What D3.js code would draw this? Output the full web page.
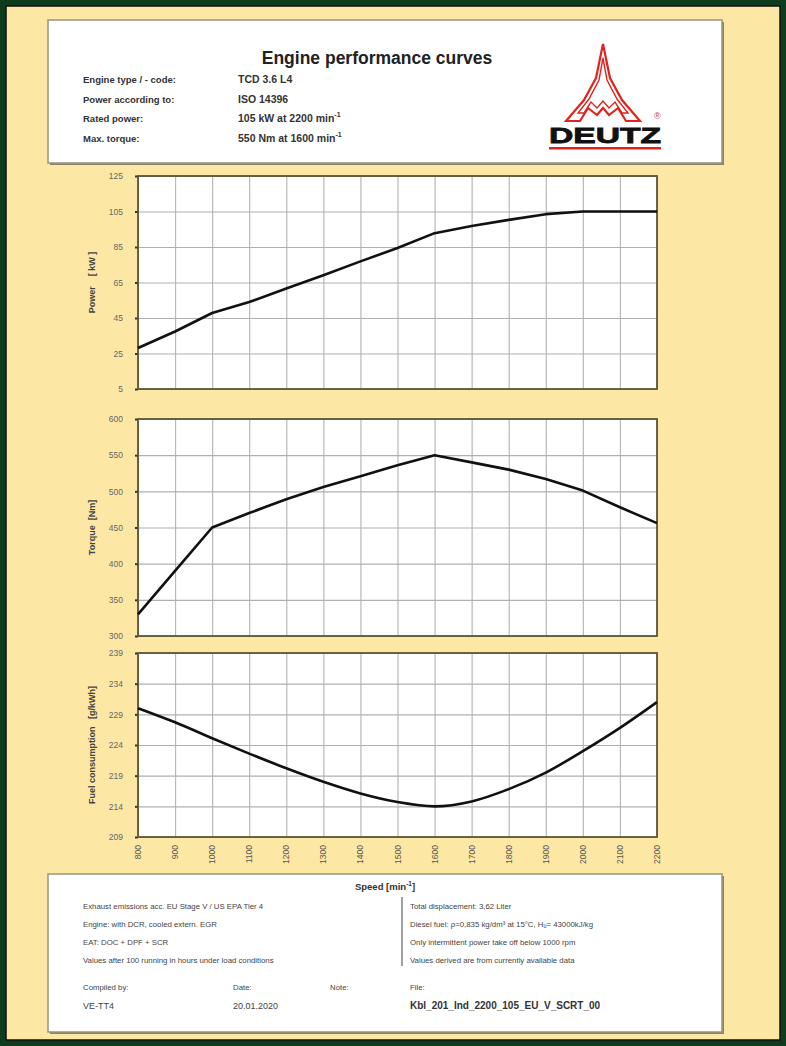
<!DOCTYPE html>
<html>
<head>
<meta charset="utf-8">
<script src="https://cdn.jsdelivr.net/npm/d3@7"></script>
<style>
  html, body { margin: 0; padding: 0; background: #0d3d1c; }
  svg { display: block; font-family: "Liberation Sans", Arial, sans-serif; }
</style>
</head>
<body>
<svg id="viz"></svg>
<script>
// ---------------------------
// Data
// ---------------------------

const speeds = [800, 900, 1000, 1100, 1200, 1300, 1400, 1500, 1600, 1700, 1800, 1900, 2000, 2100, 2200];
const powerKW = [28.1, 37.4, 47.8, 54.0, 61.6, 69.1, 76.9, 84.4, 92.8, 96.8, 100.3, 103.5, 105, 105, 105];
const torqueNm = [330, 390, 450, 470, 489, 506, 521, 536, 550, 540, 530, 517, 501, 478, 456];
const fuelGkWh = [230, 227.7, 225.1, 222.6, 220.2, 218, 216.1, 214.7, 214, 214.8, 216.8, 219.5, 223, 226.8, 231];

const powerTicks = [5, 25, 45, 65, 85, 105, 125];
const torqueTicks = [300, 350, 400, 450, 500, 550, 600];
const fuelTicks = [209, 214, 219, 224, 229, 234, 239];

const headerLabels = ["Engine type / - code:", "Power according to:", "Rated power:", "Max. torque:"];
const headerValues = ["TCD 3.6 L4", "ISO 14396", "105 kW at 2200 min", "550 Nm at 1600 min"];

const notesLeft = [
    "Exhaust emissions acc. EU Stage V / US EPA Tier 4",
    "Engine: with DCR, cooled extern. EGR",
    "EAT: DOC + DPF + SCR",
    "Values after 100 running in hours under load conditions"
];
const notesRight = [
    "Total displacement:  3,62  Liter",
    "Diesel fuel: \u03c1=0,835 kg/dm\u00b3 at 15\u00b0C, H\u1d64= 43000kJ/kg",
    "Only intermittent power take off below 1000 rpm",
    "Values derived are from currently available data"
];

// ---------------------------
// Create SVG
// ---------------------------

const width = 786;
const height = 1046;

const svg = d3.select("#viz")
    .attr("width", width)
    .attr("height", height)
    .attr("viewBox", `0 0 ${width} ${height}`);

// page frame
svg.append("rect")
    .attr("x", 0).attr("y", 0).attr("width", width).attr("height", height)
    .attr("fill", "#0d3d1c");
svg.append("rect")
    .attr("x", 6).attr("y", 6).attr("width", width - 12).attr("height", height - 12)
    .attr("fill", "#fce8a4")
    .attr("stroke", "#111").attr("stroke-width", 1.5);

// ---------------------------
// Header box
// ---------------------------

const header = svg.append("g");

header.append("rect")
    .attr("x", 50).attr("y", 22).attr("width", 674).attr("height", 143)
    .attr("fill", "#8a846a");
header.append("rect")
    .attr("x", 48).attr("y", 20).attr("width", 674).attr("height", 143)
    .attr("fill", "#fff")
    .attr("stroke", "#9a9478").attr("stroke-width", 1.5);

header.append("text")
    .attr("x", 377).attr("y", 64)
    .attr("text-anchor", "middle")
    .attr("font-size", 17.5)
    .attr("font-weight", "bold")
    .attr("fill", "#222")
    .text("Engine performance curves");

headerLabels.forEach((d, i) => {
    header.append("text")
        .attr("x", 83).attr("y", 83 + i * 19.5)
        .attr("font-size", 9.5).attr("font-weight", "bold").attr("fill", "#333")
        .text(d);
});

headerValues.forEach((d, i) => {
    const t = header.append("text")
        .attr("x", 238).attr("y", 83 + i * 19.5)
        .attr("font-size", 10.5).attr("font-weight", "bold").attr("fill", "#333")
        .text(d);
    if (i >= 2) {
        t.append("tspan").attr("dy", -5).attr("font-size", 7).text("-1");
    }
});

// DEUTZ logo
const logo = header.append("g").attr("fill", "none").attr("stroke", "#e0231d").attr("stroke-linejoin", "miter");
logo.append("path")
    .attr("stroke-width", 2.2)
    .attr("d", "M603,44 L596,78 L584,100 L572,114 L566,121 L580,121 L588,108 L597,115 L603,108 L609,115 L618,108 L626,121 L640,121 L634,114 L622,100 L610,78 Z");
logo.append("path")
    .attr("stroke-width", 1.4)
    .attr("d", "M603,58 L599,80 L589,99 L578,113 L584,113 L591,102 L597,108 L603,101 L609,108 L615,102 L622,113 L628,113 L617,99 L607,80 Z");
header.append("text")
    .attr("x", 549).attr("y", 143)
    .attr("font-size", 22).attr("font-weight", "900")
    .attr("font-family", "'Liberation Sans', Arial, sans-serif")
    .attr("fill", "#111")
    .attr("stroke", "#111").attr("stroke-width", 0.8)
    .attr("textLength", 112)
    .attr("lengthAdjust", "spacingAndGlyphs")
    .text("DEUTZ");
header.append("rect")
    .attr("x", 549).attr("y", 147).attr("width", 112).attr("height", 2.5)
    .attr("fill", "#e0231d");
header.append("text")
    .attr("x", 654).attr("y", 119)
    .attr("font-size", 9).attr("fill", "#c33")
    .text("\u00ae");

// ---------------------------
// Charts
// ---------------------------

const left = 138;
const right = 657;

const x = d3.scaleLinear()
    .domain([800, 2200])
    .range([left, right]);

const panels = [
    { values: powerKW, ticks: powerTicks, top: 176, bottom: 389, label: "Power    [ kW ]", curve: d3.curveLinear },
    { values: torqueNm, ticks: torqueTicks, top: 419, bottom: 636, label: "Torque  [Nm]", curve: d3.curveLinear },
    { values: fuelGkWh, ticks: fuelTicks, top: 653, bottom: 837, label: "Fuel consumption   [g/kWh]", curve: d3.curveMonotoneX }
];

panels.forEach(p => {

    const y = d3.scaleLinear()
        .domain([p.ticks[0], p.ticks[p.ticks.length - 1]])
        .range([p.bottom, p.top]);

    const g = svg.append("g");

    g.append("rect")
        .attr("x", left).attr("y", p.top)
        .attr("width", right - left).attr("height", p.bottom - p.top)
        .attr("fill", "#fff");

    // grid
    g.append("g")
        .attr("transform", `translate(0,${p.bottom})`)
        .call(d3.axisBottom(x).tickValues(speeds).tickSize(-(p.bottom - p.top)).tickFormat(""))
        .call(a => a.select(".domain").remove())
        .call(a => a.selectAll("line").attr("stroke", "#b8b8b8").attr("stroke-width", 1.2));

    g.append("g")
        .attr("transform", `translate(${left},0)`)
        .call(d3.axisLeft(y).tickValues(p.ticks).tickSize(-(right - left)).tickFormat(""))
        .call(a => a.select(".domain").remove())
        .call(a => a.selectAll("line").attr("stroke", "#b0b0b0").attr("stroke-width", 1.2));

    // y axis labels
    g.append("g")
        .attr("transform", `translate(${left},0)`)
        .call(d3.axisLeft(y).tickValues(p.ticks).tickSize(3).tickPadding(12))
        .call(a => a.select(".domain").remove())
        .call(a => a.selectAll("line").attr("stroke", "#333").attr("stroke-width", 2))
        .call(a => a.selectAll("text")
            .attr("font-size", 8.5)
            .attr("fill", "#666")
            .attr("font-family", "'Liberation Sans', Arial, sans-serif"));

    // frame
    g.append("rect")
        .attr("x", left).attr("y", p.top)
        .attr("width", right - left).attr("height", p.bottom - p.top)
        .attr("fill", "none")
        .attr("stroke", "#5b5636").attr("stroke-width", 1.8);

    // curve
    const line = d3.line()
        .x((d, i) => x(speeds[i]))
        .y(d => y(d))
        .curve(p.curve);

    g.append("path")
        .datum(p.values)
        .attr("d", line)
        .attr("fill", "none")
        .attr("stroke", "#111")
        .attr("stroke-width", 2.6)
        .attr("stroke-linejoin", "round");

    g.append("text")
        .attr("transform", `translate(95,${(p.top + p.bottom) / 2}) rotate(-90)`)
        .attr("text-anchor", "middle")
        .attr("font-size", 9)
        .attr("font-weight", "bold")
        .attr("fill", "#444")
        .attr("xml:space", "preserve")
        .text(p.label);
});

// x tick labels (rotated)
svg.append("g")
    .selectAll("text")
    .data(speeds)
    .join("text")
    .attr("transform", d => `translate(${x(d) + 3},${845}) rotate(-90)`)
    .attr("text-anchor", "end")
    .attr("font-size", 8.5)
    .attr("fill", "#555")
    .text(d => d);

// ---------------------------
// Footer box
// ---------------------------

const footer = svg.append("g");

footer.append("rect")
    .attr("x", 50).attr("y", 876).attr("width", 674).attr("height", 158)
    .attr("fill", "#8a846a");
footer.append("rect")
    .attr("x", 48).attr("y", 874).attr("width", 674).attr("height", 158)
    .attr("fill", "#fff")
    .attr("stroke", "#9a9478").attr("stroke-width", 1.5);

const speedLabel = footer.append("text")
    .attr("x", 385).attr("y", 890)
    .attr("text-anchor", "middle")
    .attr("font-size", 9.5).attr("font-weight", "bold").attr("fill", "#333")
    .text("Speed [min");
speedLabel.append("tspan").attr("dy", -4).attr("font-size", 6.5).text("-1");
speedLabel.append("tspan").attr("dy", 4).text("]");

notesLeft.forEach((d, i) => {
    footer.append("text")
        .attr("x", 83).attr("y", 909 + i * 18)
        .attr("font-size", 7.8).attr("fill", "#444")
        .text(d);
});

notesRight.forEach((d, i) => {
    footer.append("text")
        .attr("x", 410).attr("y", 909 + i * 18)
        .attr("font-size", 7.8).attr("fill", "#444")
        .text(d);
});

footer.append("line")
    .attr("x1", 402).attr("x2", 402).attr("y1", 897).attr("y2", 966)
    .attr("stroke", "#444").attr("stroke-width", 1);

const metaKeys = [["Compiled by:", 83], ["Date:", 233], ["Note:", 330], ["File:", 410]];
metaKeys.forEach(d => {
    footer.append("text")
        .attr("x", d[1]).attr("y", 990)
        .attr("font-size", 7.8).attr("fill", "#444")
        .text(d[0]);
});

footer.append("text")
    .attr("x", 83).attr("y", 1009)
    .attr("font-size", 9).attr("fill", "#444")
    .text("VE-TT4");
footer.append("text")
    .attr("x", 233).attr("y", 1009)
    .attr("font-size", 9).attr("fill", "#444")
    .text("20.01.2020");
footer.append("text")
    .attr("x", 410).attr("y", 1009)
    .attr("font-size", 10).attr("font-weight", "bold").attr("fill", "#333")
    .text("Kbl_201_Ind_2200_105_EU_V_SCRT_00");
</script>
</body>
</html>
